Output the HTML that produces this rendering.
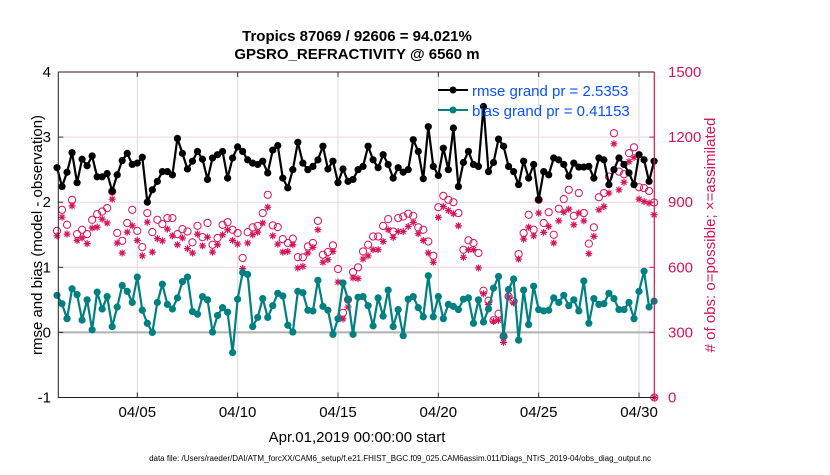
<!DOCTYPE html>
<html><head><meta charset="utf-8"><style>
body{margin:0;background:#fff;}
svg{font-family:"Liberation Sans",Arial,sans-serif;}
</style></head><body>
<svg id="chart" width="830" height="470" viewBox="0 0 830 470" xmlns="http://www.w3.org/2000/svg">
<rect x="0" y="0" width="830" height="470" fill="#fff"/>
<text x="357" y="41" text-anchor="middle" font-size="15" font-weight="bold">Tropics 87069 / 92606 = 94.021%</text>
<text x="357" y="59" text-anchor="middle" font-size="15" font-weight="bold">GPSRO_REFRACTIVITY @ 6560 m</text>
<g id="grid"></g>
<g id="marks"></g>
<g id="axes"></g>
<text transform="translate(42,235) rotate(-90)" text-anchor="middle" font-size="15">rmse and bias (model - observation)</text>
<text transform="translate(715,235) rotate(-90)" text-anchor="middle" font-size="15" fill="#d4145a"># of obs: o=possible; ×=assimilated</text>
<text x="357" y="442" text-anchor="middle" font-size="15">Apr.01,2019 00:00:00 start</text>
<text x="400" y="461" text-anchor="middle" font-size="8">data file: /Users/raeder/DAI/ATM_forcXX/CAM6_setup/f.e21.FHIST_BGC.f09_025.CAM6assim.011/Diags_NTrS_2019-04/obs_diag_output.nc</text>
<g>
<line x1="438" y1="90" x2="468" y2="90" stroke="#000" stroke-width="2"/>
<circle cx="453" cy="90" r="3.5" fill="#000"/>
<text x="472" y="96" font-size="15" fill="#0a50ff">rmse grand pr = 2.5353</text>
<line x1="438" y1="110" x2="468" y2="110" stroke="#008080" stroke-width="2"/>
<circle cx="453" cy="110" r="3.5" fill="#008080"/>
<text x="472" y="116" font-size="15" fill="#0a50ff">bias grand pr = 0.41153</text>
</g>
</svg>
<script>
const rmse=[2.53,2.24,2.46,2.76,2.30,2.66,2.56,2.71,2.39,2.39,2.44,2.17,2.42,2.64,2.75,2.58,2.60,2.69,2.00,2.19,2.32,2.47,2.47,2.42,2.98,2.75,2.51,2.63,2.78,2.66,2.35,
2.68,2.73,2.78,2.37,2.68,2.85,2.78,2.65,2.60,2.58,2.63,2.45,2.80,2.87,2.37,2.22,2.50,2.92,2.60,2.50,2.55,2.65,2.86,2.51,2.63,2.30,2.51,2.32,2.35,2.50,
2.55,2.86,2.65,2.53,2.73,2.58,2.37,2.53,2.46,2.50,2.96,2.78,2.36,3.16,2.55,2.41,2.83,2.50,3.14,2.24,2.61,2.78,2.58,2.55,3.47,2.47,2.61,2.97,2.86,2.55,
2.47,2.27,2.63,2.37,2.58,2.04,2.47,2.42,2.68,2.65,2.58,2.40,2.60,2.54,2.54,2.55,2.37,2.68,2.65,2.27,2.50,2.68,2.58,2.45,2.27,2.73,2.65,2.32,2.63];
const bias=[0.57,0.44,0.21,0.67,0.58,0.19,0.50,0.04,0.62,0.36,0.55,0.09,0.39,0.72,0.63,0.46,0.85,0.34,0.14,0.00,0.46,0.74,0.43,0.36,0.53,0.78,0.85,0.32,0.28,0.55,0.50,
0.005,0.26,0.38,0.31,-0.31,0.51,0.92,0.89,0.09,0.23,0.52,0.23,0.41,0.60,0.56,0.11,0.005,0.63,0.61,0.34,0.33,0.80,0.40,0.34,-0.03,0.21,0.76,0.51,-0.03,0.54,
0.55,0.41,0.10,0.53,0.25,0.65,0.09,0.35,-0.05,0.51,0.55,0.38,0.24,0.87,0.24,0.55,0.21,0.43,0.40,0.35,0.51,0.53,0.14,0.50,0.16,0.36,0.68,0.86,-0.06,0.66,
0.82,-0.12,0.65,0.12,0.71,0.35,0.33,0.34,0.53,0.46,0.57,0.41,0.50,0.33,0.79,0.14,0.52,0.43,0.44,0.60,0.52,0.35,0.35,0.46,0.21,0.63,0.94,0.39,0.48];
const nPossible=[768,865,796,911,753,773,753,819,845,857,873,949,758,722,804,865,768,693,850,762,819,799,827,827,753,776,765,715,791,739,804,
704,735,796,808,773,758,643,762,784,791,850,934,793,785,730,712,732,647,646,696,712,814,658,670,701,592,390,451,578,600,
673,704,742,742,791,822,765,827,834,847,837,784,773,719,653,877,929,911,900,850,681,724,712,666,492,446,356,386,282,466,
443,661,758,842,773,911,804,854,750,870,914,957,837,942,850,709,784,923,942,1018,1218,1041,1029,1126,1153,969,965,952,899,0];
const nAssim=[745,831,753,883,724,735,709,781,785,822,804,914,712,666,762,791,724,653,808,670,732,722,776,745,704,735,686,666,753,699,739,
670,704,750,773,724,707,594,712,750,762,804,877,745,707,670,673,704,597,604,666,692,773,623,635,673,532,362,417,551,548,
638,653,681,681,719,773,738,765,765,788,807,755,724,666,623,830,880,862,847,791,646,681,681,597,478,428,351,356,254,463,
436,638,730,785,745,850,761,788,712,814,854,868,796,850,814,663,742,865,880,942,1169,957,992,1087,1106,914,903,896,842,0];
const xTickLabels=["04/05","04/10","04/15","04/20","04/25","04/30"];
const xTickDays=[4,9,14,19,24,29];
const yTicks=[-1,0,1,2,3,4];
const y2Ticks=[0,300,600,900,1200,1500];
const stepDays=0.25;

const L=58.3,R=654.3,T=72,B=397.5;
const xS=d=>57+d*20.07;
const yS=v=>B-(v+1)*(B-T)/5;
const y2S=v=>B-v*(B-T)/1500;
const NS='http://www.w3.org/2000/svg';
function mk(tag,attrs,parent){const e=document.createElementNS(NS,tag);for(const k in attrs)e.setAttribute(k,attrs[k]);parent.appendChild(e);return e;}
const grid=document.getElementById('grid'),marks=document.getElementById('marks'),axes=document.getElementById('axes');

xTickDays.forEach((d,i)=>{
  const g=mk('line',{x1:xS(d),x2:xS(d),y1:T,y2:B,stroke:'#dcdcdc','stroke-width':1},grid);
  
  
  const t=mk('line',{x1:xS(d),x2:xS(d),y1:B,y2:B-5,stroke:'#333'},axes);
  
  
  const tb=mk('line',{x1:xS(d),x2:xS(d),y1:T,y2:T+5,stroke:'#333'},axes);
  
  
  const lb=mk('text',{x:xS(d),y:417,'text-anchor':'middle','font-size':15},axes);
  lb.textContent=xTickLabels[i];
  
  
});
y2Ticks.forEach(v=>{
  if(v>0&&v<1500){
    const g=mk('line',{x1:L,x2:R,y1:y2S(v),y2:y2S(v),stroke:'#f0d2dc','stroke-width':1},grid);
    
    
  }
  const t=mk('line',{x1:R,x2:R-5,y1:y2S(v),y2:y2S(v),stroke:'#d4145a'},axes);
  
  
  const lb=mk('text',{x:668,y:y2S(v)+5,'font-size':15,fill:'#d4145a'},axes);
  lb.textContent=v;
  
  
});
const zl=mk('line',{x1:L,x2:R,y1:yS(0),y2:yS(0),stroke:'#b0b0b0','stroke-width':2},grid);


yTicks.forEach(v=>{
  const t=mk('line',{x1:L,x2:L+5,y1:yS(v),y2:yS(v),stroke:'#333'},axes);
  
  
  const lb=mk('text',{x:51,y:yS(v)+5,'font-size':15,'text-anchor':'end'},axes);
  lb.textContent=v;
  
  
});
const fr=mk('path',{d:`M${L},${T}H${R}M${L},${T}V${B}H${R}`,stroke:'#2a1a1a','stroke-width':1,fill:'none'},axes);


const ra=mk('line',{x1:R,x2:R,y1:T,y2:B,stroke:'#d4145a','stroke-width':1.2},axes);



nPossible.forEach((v,i)=>{
  const c=mk('circle',{cx:Math.min(xS(i*stepDays),R),cy:y2S(v),r:3.6,fill:'none',stroke:'#d4145a','stroke-width':1},marks);
  
  
});
nAssim.forEach((v,i)=>{
  const x=Math.min(xS(i*stepDays),R),y=y2S(v),r=3.5,d=2.5;
  const s=mk('path',{d:`M${x-r},${y}H${x+r}M${x},${y-r}V${y+r}M${x-d},${y-d}L${x+d},${y+d}M${x-d},${y+d}L${x+d},${y-d}`,stroke:'#d4145a','stroke-width':1.2,fill:'none'},marks);
  
  
});
function series(arr,color,name){
  const pts=arr.map((v,i)=>[xS(i*stepDays),yS(v)]);
  const p=mk('polyline',{points:pts.map(p=>p.join(',')).join(' '),fill:'none',stroke:color,'stroke-width':2.2,'stroke-linejoin':'round'},marks);
  
  
  pts.forEach(q=>{
    const c=mk('circle',{cx:q[0],cy:q[1],r:3.6,fill:color},marks);
    
    
  });
}
series(bias,'#008080','bias');
series(rmse,'#000000','rmse');
</script>
</body></html>
